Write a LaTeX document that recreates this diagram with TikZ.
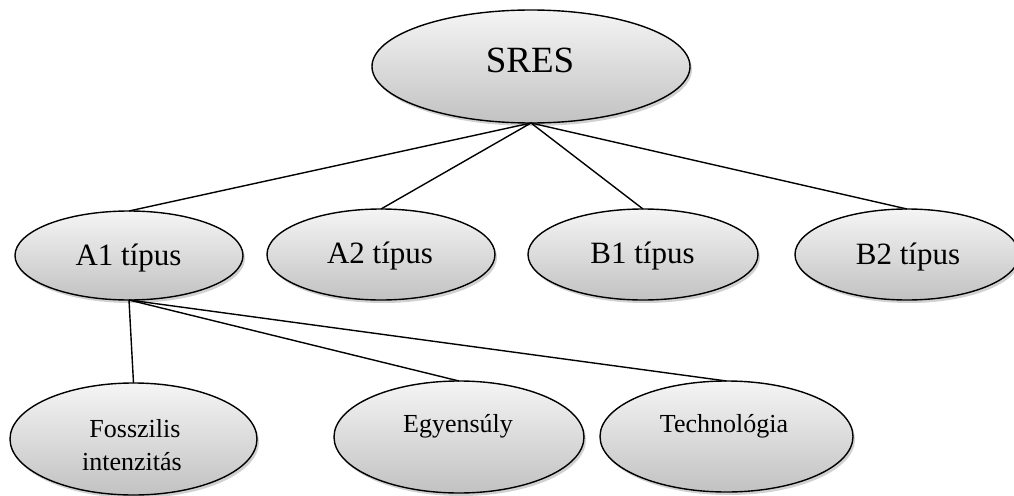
\documentclass[tikz,border=0pt]{standalone}
\usepackage{fontspec}
\setmainfont{Liberation Serif}
\usetikzlibrary{shapes.geometric,shadows}

\tikzset{
  bubble/.style={ellipse, draw=black, line width=1.4pt, inner sep=0pt, outer sep=0pt,
    top color=white!96!black, bottom color=black!24,
    drop shadow={shadow xshift=2pt, shadow yshift=-3pt, opacity=0.18, fill=black}},
  link/.style={line width=1.4pt, black},
  bigtxt/.style={anchor=base, inner sep=0pt, font=\fontsize{37}{44}\selectfont},
  midtxt/.style={anchor=base, inner sep=0pt, font=\fontsize{31}{37}\selectfont},
  smalltxt/.style={anchor=base, inner sep=0pt, font=\fontsize{26}{33}\selectfont},
}

\begin{document}
\begin{tikzpicture}[x=1pt, y=-1pt]
\useasboundingbox (0,0) rectangle (1014,495);

% shapes
\node[bubble, minimum width=318pt, minimum height=113pt] (sres) at (531,66.5) {};
\node[bubble, minimum width=228pt, minimum height=89pt] (a1) at (129,255.5) {};
\node[bubble, minimum width=228pt, minimum height=91pt] (a2) at (381,254.5) {};
\node[bubble, minimum width=230pt, minimum height=91pt] (b1) at (643,254.5) {};
\node[bubble, minimum width=224pt, minimum height=91pt] (b2) at (907,254.5) {};
\node[bubble, minimum width=247pt, minimum height=112pt] (foss) at (133.5,439) {};
\node[bubble, minimum width=250pt, minimum height=112pt] (egy) at (459,437) {};
\node[bubble, minimum width=253pt, minimum height=111pt] (tech) at (726.5,436.5) {};

% connectors
\draw[link] (sres.south) -- (a1.north);
\draw[link] (sres.south) -- (a2.north);
\draw[link] (sres.south) -- (b1.north);
\draw[link] (sres.south) -- (b2.north);
\draw[link] (a1.south) -- (foss.north);
\draw[link] (a1.south) -- (egy.north);
\draw[link] (a1.south) -- (tech.north);

% labels
\node[bigtxt] (tsres) at (530,73) {SRES};
\node[midtxt] (ta1) at (128.5,265) {A1 típus};
\node[midtxt] (ta2) at (380,263) {A2 típus};
\node[midtxt] (tb1) at (642.5,263) {B1 típus};
\node[midtxt] (tb2) at (908,264) {B2 típus};
\node[smalltxt] (tfoss1) at (135,437) {Fosszilis};
\node[smalltxt] (tfoss2) at (132,470) {intenzitás};
\node[smalltxt] (tegy) at (458,432) {Egyensúly};
\node[smalltxt] (ttech) at (724,432) {Technológia};
\end{tikzpicture}
\end{document}
